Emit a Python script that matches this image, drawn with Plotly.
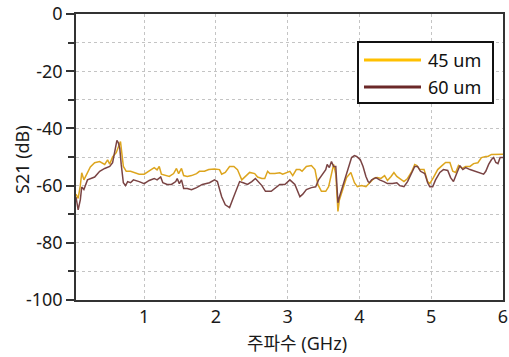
import plotly.graph_objects as go

# ---- data ----
freq_45 = [0.05,0.08,0.11,0.13,0.16,0.20,0.25,0.31,0.38,0.45,0.49,0.52,0.56,0.61,0.65,0.67,0.71,0.75,0.81,0.86,
           0.93,1.00,1.07,1.14,1.18,1.21,1.24,1.30,1.35,1.41,1.45,1.48,1.52,1.55,1.60,1.66,1.73,1.77,1.84,1.90,
           1.98,2.05,2.08,2.13,2.19,2.25,2.30,2.36,2.40,2.47,2.54,2.58,2.64,2.68,2.72,2.75,2.82,2.89,2.93,3.03,
           3.07,3.12,3.17,3.20,3.26,3.33,3.38,3.42,3.47,3.53,3.57,3.61,3.64,3.67,3.70,3.72,3.77,3.82,3.88,3.93,
           3.97,4.03,4.09,4.14,4.20,4.25,4.30,4.35,4.39,4.44,4.48,4.52,4.56,4.62,4.67,4.73,4.77,4.80,4.84,4.90,
           4.95,4.98,5.03,5.09,5.15,5.20,5.26,5.30,5.34,5.38,5.43,5.48,5.54,5.59,5.65,5.70,5.76,5.79,5.84,5.90,
           5.96,6.00]
s21_45 = [-63,-64.5,-60,-55.5,-58,-56,-53.5,-52,-51.6,-52.6,-51,-52.5,-50,-48.5,-46,-44.6,-53.3,-55,-55,-55.5,
          -56,-56,-54.7,-53.7,-54.5,-53.3,-56,-56.3,-56.8,-55.8,-54,-55.8,-54,-56.5,-56.8,-56.5,-55.8,-55,-55,-54.4,
          -54.2,-54.4,-56,-55.4,-53.3,-53.3,-54.4,-58,-57,-55.4,-55.8,-57,-57.5,-57.5,-55,-55.8,-55.8,-55.5,-56,-55,
          -56.5,-54.4,-54.4,-55,-53.3,-53,-54.4,-59.6,-62,-62,-60.4,-55.4,-52.6,-56,-69,-65,-61.4,-57.2,-55.4,-59,
          -60.4,-60,-60.4,-59,-57.5,-57.2,-57.5,-56.5,-58.2,-56.8,-55.4,-56.8,-57.5,-58.6,-57.5,-55,-52.6,-53,-54.4,-54.4,
          -58.6,-59.3,-57.2,-54.4,-53,-51.9,-51.9,-55,-55.4,-53,-54,-53.3,-53.3,-52.3,-52,-50.2,-49.8,-49.8,-49.1,-49.1,
          -49.2,-49]

freq_60 = [0.05,0.08,0.11,0.13,0.16,0.21,0.31,0.38,0.45,0.52,0.56,0.60,0.62,0.64,0.66,0.68,0.71,0.74,0.77,0.81,
           0.85,0.93,1.00,1.07,1.14,1.18,1.23,1.26,1.32,1.38,1.44,1.46,1.49,1.52,1.55,1.60,1.66,1.73,1.81,1.91,
           1.98,2.02,2.08,2.13,2.19,2.23,2.28,2.33,2.38,2.44,2.50,2.55,2.64,2.69,2.77,2.82,2.89,2.96,3.03,3.10,
           3.17,3.21,3.26,3.33,3.39,3.43,3.47,3.53,3.55,3.58,3.61,3.64,3.67,3.70,3.72,3.78,3.84,3.89,3.93,3.96,
           4.01,4.05,4.09,4.12,4.14,4.17,4.23,4.28,4.34,4.39,4.46,4.52,4.56,4.62,4.67,4.73,4.77,4.81,4.85,4.91,
           4.95,4.98,5.02,5.06,5.12,5.17,5.23,5.27,5.31,5.36,5.40,5.44,5.48,5.54,5.61,5.68,5.73,5.76,5.80,5.84,
           5.87,5.90,5.93,5.96,6.00]
s21_60 = [-64,-68.5,-65,-60.5,-61.4,-58,-57,-55,-54,-53.3,-52,-47,-44.2,-45,-47,-52.6,-59,-60,-58.6,-59,
          -58,-58.6,-59.3,-58.2,-57.5,-58,-57,-59,-59.6,-59.6,-58.6,-57.5,-59.3,-58,-61,-61,-61.4,-60.7,-59.6,-59,
          -58,-58.6,-63.9,-66.7,-67.7,-65,-61.4,-58.6,-59,-59.6,-58.6,-57.5,-60,-62,-62,-61,-59.6,-59.6,-58,-59.6,
          -63.9,-63,-61.4,-60.7,-60.4,-58,-56.5,-54.4,-52.6,-53.7,-51.6,-53.3,-53.3,-66,-64,-59,-53.7,-50.2,-49.5,-49.8,
          -50.9,-53.3,-56.8,-58.6,-59,-58,-57.2,-58,-58.6,-59.3,-59.3,-59,-60,-60.4,-58.6,-55.4,-53.3,-53.3,-55,-55.8,
          -59,-60.4,-60.4,-58,-55.4,-54.4,-54.7,-57.2,-58.6,-55.4,-53,-54.4,-53.7,-54.4,-55,-55.4,-56,-55,-52.6,-50.9,
          -50.2,-51.9,-52.3,-50.2,-50.2]

series_names = ["45 um", "60 um"]
y_tickvals = [0, -20, -40, -60, -80, -100]
y_ticktext = ["0", "-20", "-40", "-60", "-80", "-100"]
x_tickvals = [1, 2, 3, 4, 5, 6]
x_title = "주파수 (GHz)"
y_title = "S21 (dB)"

YEL = "#DDA51E"
BRN = "#7A4444"
YEL_LEG = "#FFC000"
BRN_LEG = "#6B2828"

FONT = "Noto Sans, Noto Sans CJK KR, sans-serif"

fig = go.Figure()
fig.add_trace(go.Scatter(x=freq_45, y=s21_45, mode="lines", name=series_names[0],
                         line=dict(color=YEL, width=1.5), showlegend=False))
fig.add_trace(go.Scatter(x=freq_60, y=s21_60, mode="lines", name=series_names[1],
                         line=dict(color=BRN, width=1.5), showlegend=False))

fig.update_layout(
    width=509, height=357,
    margin=dict(l=76, r=6, t=14, b=57, autoexpand=False),
    paper_bgcolor="white", plot_bgcolor="white",
    font=dict(family=FONT, size=18, color="#1a1a1a"),
    showlegend=False,
)
fig.update_xaxes(
    range=[0.05, 6], tickvals=x_tickvals, ticktext=[str(v) for v in x_tickvals],
    showgrid=True, gridcolor="#c4c4c4", griddash="dot", gridwidth=1,
    showline=True, linecolor="#333", linewidth=1.5, mirror=True,
    ticks="", zeroline=False, automargin=False,
    tickfont=dict(size=18),
)
fig.update_yaxes(
    range=[-100, 0], tickvals=y_tickvals, ticktext=y_ticktext,
    showgrid=True, gridcolor="#c4c4c4", griddash="dot", gridwidth=1,
    showline=True, linecolor="#333", linewidth=1.5, mirror=True,
    ticks="outside", ticklen=8, tickcolor="#333", tickwidth=1.5,
    minor=dict(dtick=10, ticks="outside", ticklen=6, tickcolor="#333", showgrid=True,
               gridcolor="#c4c4c4", griddash="dot", gridwidth=1),
    zeroline=False, automargin=False,
    tickfont=dict(size=18),
)

# ---- layout helpers (paper coordinates) ----
W, H = 509, 357
L, R, T, B = 76, 6, 14, 57
pw, ph = W - L - R, H - T - B

def px(x):
    return (x - L) / pw

def py(y):
    return 1 - (y - T) / ph

# axis titles
fig.add_annotation(xref="paper", yref="paper", x=px(297), y=py(343), text=x_title,
                   showarrow=False, xanchor="center", yanchor="middle",
                   font=dict(size=18, color="#1a1a1a", family=FONT))
fig.add_annotation(xref="paper", yref="paper", x=px(22), y=py(160), text=y_title,
                   showarrow=False, xanchor="center", yanchor="middle", textangle=-90,
                   font=dict(size=18, color="#1a1a1a", family=FONT))

# manual legend
fig.add_shape(type="rect", xref="paper", yref="paper",
              x0=px(358), x1=px(493), y0=py(103), y1=py(42),
              line=dict(color="#111", width=2), fillcolor="white", layer="above")
for yy, col, name in [(60, YEL_LEG, series_names[0]), (87, BRN_LEG, series_names[1])]:
    fig.add_shape(type="line", xref="paper", yref="paper",
                  x0=px(364), x1=px(421), y0=py(yy), y1=py(yy),
                  line=dict(color=col, width=3), layer="above")
    fig.add_annotation(xref="paper", yref="paper", x=px(426), y=py(yy),
                       text=name, showarrow=False, xanchor="left", yanchor="middle",
                       font=dict(size=18, color="#111", family=FONT))

fig.write_html("out.html", config={"displayModeBar": False},
               post_script="document.body.style.margin='0';document.body.style.overflow='hidden';")
